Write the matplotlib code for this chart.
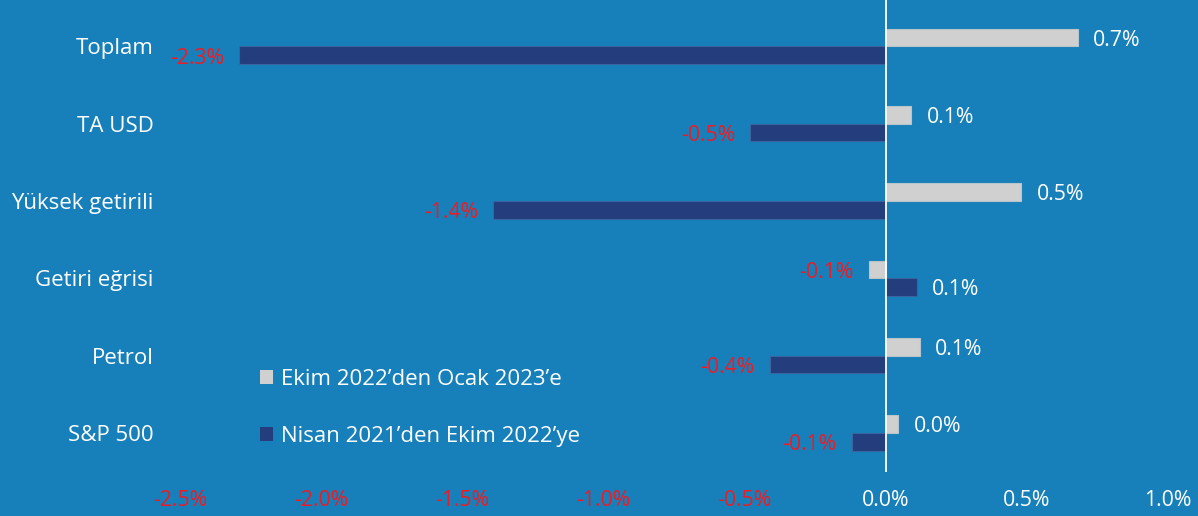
import numpy as np
import matplotlib.pyplot as plt
from matplotlib.patches import Patch

plt.rcParams['font.family'] = ['Open Sans', 'DejaVu Sans']

# categories, top to bottom
categories = ['Toplam', 'TA USD', 'Yüksek getirili', 'Getiri eğrisi', 'Petrol', 'S&P 500']
# change in %, two periods
recent = [0.68, 0.09, 0.48, -0.06, 0.12, 0.045]
earlier = [-2.29, -0.48, -1.39, 0.11, -0.41, -0.12]
series_names = ['Ekim 2022\u2019den Ocak 2023\u2019e', 'Nisan 2021\u2019den Ekim 2022\u2019ye']
xticks = [-2.5, -2.0, -1.5, -1.0, -0.5, 0.0, 0.5, 1.0]

bg = '#1780ba'
gray = '#d0d0d0'
navy = '#233d7d'
red = '#ed1c24'
fs = 15.3

fig = plt.figure(figsize=(11.98, 5.16), dpi=100, facecolor=bg)
ax = fig.add_axes([180 / 1198, 1 - 472 / 516, (1168 - 180) / 1198, 472 / 516])
ax.set_facecolor(bg)

y = np.arange(len(categories))
h = 0.23
ax.barh(y - h / 2, recent, height=h, color=gray, edgecolor='#b8c4cc', linewidth=0.8)
ax.barh(y + h / 2, earlier, height=h, color=navy, edgecolor='#3a64a0', linewidth=0.8)

# value labels at bar ends
for vals, off in [(recent, -h / 2), (earlier, h / 2)]:
    for i, v in enumerate(vals):
        if v >= 0:
            ax.annotate(f'{v:.1f}%', (v, i + off), xytext=(11, -2), textcoords='offset points',
                        ha='left', va='center', color='white', fontsize=fs)
        else:
            ax.annotate(f'{v:.1f}%', (v, i + off), xytext=(-11, -2), textcoords='offset points',
                        ha='right', va='center', color=red, fontsize=fs)

ax.axvline(0, color='white', lw=1.3)

ax.set_xlim(-2.5, 1.0)
ax.set_ylim(5.505, -0.60)
ax.set_xticks(xticks)
ax.set_xticklabels([f'{t:.1f}%' for t in xticks], fontsize=fs)
for lab, t in zip(ax.get_xticklabels(), xticks):
    lab.set_color(red if t < 0 else 'white')
ax.set_yticks(y)
ax.set_yticklabels(categories, fontsize=16, color='white')
ax.tick_params(length=0)
ax.tick_params(axis='x', pad=13)
ax.tick_params(axis='y', pad=19)
for s in ax.spines.values():
    s.set_visible(False)

handles = [Patch(facecolor=gray), Patch(facecolor=navy)]
leg = ax.legend(handles, series_names, loc='upper left', bbox_to_anchor=(240 / 1198, 1 - 349 / 516),
                bbox_transform=fig.transFigure, frameon=False, fontsize=16, labelcolor='white',
                handlelength=0.6, handleheight=0.6, handletextpad=0.35, labelspacing=1.6)

fig.savefig('out.png', dpi=100, facecolor=bg)
